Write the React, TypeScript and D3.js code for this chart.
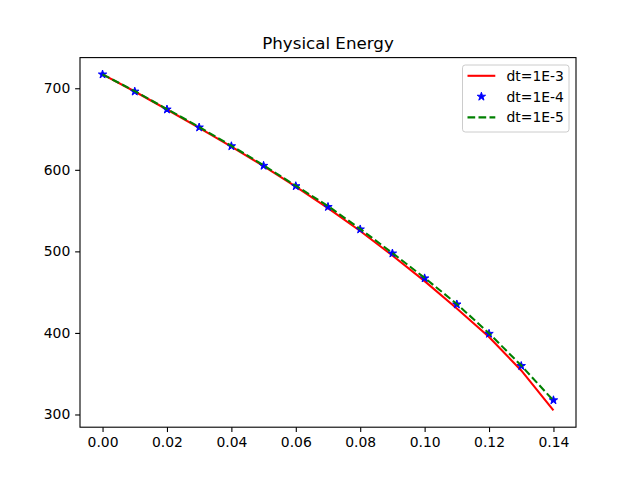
import * as d3 from "d3";
import { useEffect, useRef } from "react";

// time steps and energy values
const times = [0, 0.01, 0.02, 0.03, 0.04, 0.05, 0.06, 0.07, 0.08, 0.09, 0.1, 0.11, 0.12, 0.13, 0.14];
const energyDt3 = [717, 696, 674, 651.5, 628.5, 604.5, 579.5, 553, 525, 495, 463.5, 430, 395, 354, 305];
const energyDt4 = [717, 696, 674, 652, 629, 605, 580, 554.5, 527, 497.5, 467, 435, 399, 359.5, 317.5];
const energyDt5 = [717, 696.5, 674.5, 652.5, 629.5, 605.5, 580.5, 555.5, 527.5, 498, 467.5, 435.5, 399.5, 360, 317];
const xTicks = [0, 0.02, 0.04, 0.06, 0.08, 0.1, 0.12, 0.14];
const yTicks = [300, 400, 500, 600, 700];
const legendLabels = ["dt=1E-3", "dt=1E-4", "dt=1E-5"];

function starPath(r: number) {
  const pts: string[] = [];
  const inner = r * 0.381966;
  for (let i = 0; i < 10; i++) {
    const rad = i % 2 === 0 ? r : inner;
    const a = (i * Math.PI) / 5;
    pts.push(`${(rad * Math.sin(a)).toFixed(2)},${(-rad * Math.cos(a)).toFixed(2)}`);
  }
  return "M" + pts.join("L") + "Z";
}

function App() {
  const ref = useRef<SVGSVGElement>(null);
  const width = 640;
  const height = 480;
  const margin = { left: 80, right: 64, top: 57.6, bottom: 52.8 };

  useEffect(() => {
    const svg = d3.select(ref.current);
    svg.selectAll("*").remove();
    svg.append("rect").attr("width", width).attr("height", height).attr("fill", "white");

    const allY = [...energyDt3, ...energyDt4, ...energyDt5];
    const [xmin, xmax] = d3.extent(times) as [number, number];
    const [ymin, ymax] = d3.extent(allY) as [number, number];
    const xPad = (xmax - xmin) * 0.05;
    const yPad = (ymax - ymin) * 0.05;

    const x = d3
      .scaleLinear()
      .domain([xmin - xPad, xmax + xPad])
      .range([margin.left, width - margin.right]);
    const y = d3
      .scaleLinear()
      .domain([ymin - yPad, ymax + yPad])
      .range([height - margin.bottom, margin.top]);

    const font = "DejaVu Sans, sans-serif";

    // x axis
    const xAxis = svg
      .append("g")
      .attr("transform", `translate(0,${height - margin.bottom})`)
      .call(
        d3
          .axisBottom(x)
          .tickValues(xTicks)
          .tickSize(4.86)
          .tickPadding(4.9)
          .tickFormat((d) => d3.format(".2f")(d as number))
      );
    const yAxis = svg
      .append("g")
      .attr("transform", `translate(${margin.left},0)`)
      .call(d3.axisLeft(y).tickValues(yTicks).tickSize(4.86).tickPadding(4.9));
    [xAxis, yAxis].forEach((g) => {
      g.select(".domain").remove();
      g.selectAll("line").attr("stroke", "black").attr("stroke-width", 1.1);
      g.selectAll("text")
        .attr("fill", "black")
        .style("font-family", font)
        .style("font-size", "13.9px");
    });

    const lineGen = (vals: number[]) =>
      d3
        .line<number>()
        .x((_, i) => x(times[i]))
        .y((d) => y(d))(vals);

    const plot = svg.append("g");

    plot
      .append("path")
      .attr("d", lineGen(energyDt3))
      .attr("fill", "none")
      .attr("stroke", "red")
      .attr("stroke-width", 2.08);

    plot
      .selectAll("path.star")
      .data(energyDt4)
      .join("path")
      .attr("class", "star")
      .attr("d", starPath(4.4))
      .attr("transform", (d, i) => `translate(${x(times[i])},${y(d)})`)
      .attr("fill", "blue")
      .attr("stroke", "blue")
      .attr("stroke-width", 1);

    plot
      .append("path")
      .attr("d", lineGen(energyDt5))
      .attr("fill", "none")
      .attr("stroke", "green")
      .attr("stroke-width", 2.08)
      .attr("stroke-dasharray", "7.7,3.3");

    // frame
    svg
      .append("rect")
      .attr("x", margin.left)
      .attr("y", margin.top)
      .attr("width", width - margin.left - margin.right)
      .attr("height", height - margin.top - margin.bottom)
      .attr("fill", "none")
      .attr("stroke", "black")
      .attr("stroke-width", 1.1);

    // title
    svg
      .append("text")
      .attr("x", (margin.left + width - margin.right) / 2)
      .attr("y", margin.top - 8.5)
      .attr("text-anchor", "middle")
      .style("font-family", font)
      .style("font-size", "16.7px")
      .text("Physical Energy");

    // legend
    const lg = svg.append("g").attr("transform", "translate(462.5,65)");
    lg.append("rect")
      .attr("width", 106.5)
      .attr("height", 67)
      .attr("rx", 2.8)
      .attr("fill", "white")
      .attr("fill-opacity", 0.8)
      .attr("stroke", "#cccccc");
    legendLabels.forEach((label, i) => {
      const cy = 10.8 + i * 20.8;
      if (i === 0) {
        lg.append("line")
          .attr("x1", 5).attr("x2", 32.8).attr("y1", cy).attr("y2", cy)
          .attr("stroke", "red").attr("stroke-width", 2.08);
      } else if (i === 1) {
        lg.append("path")
          .attr("d", starPath(4.4))
          .attr("transform", `translate(18.9,${cy})`)
          .attr("fill", "blue").attr("stroke", "blue").attr("stroke-width", 1);
      } else {
        lg.append("line")
          .attr("x1", 5).attr("x2", 32.8).attr("y1", cy).attr("y2", cy)
          .attr("stroke", "green").attr("stroke-width", 2.08)
          .attr("stroke-dasharray", "7.7,3.3");
      }
      lg.append("text")
        .attr("x", 44)
        .attr("y", cy)
        .attr("dy", "0.36em")
        .style("font-family", font)
        .style("font-size", "13.9px")
        .text(label);
    });
  });

  return (
    <svg
      ref={ref}
      width={width}
      height={height}
      style={{ display: "block", position: "absolute", left: 0, top: 0 }}
    />
  );
}

export default App;
